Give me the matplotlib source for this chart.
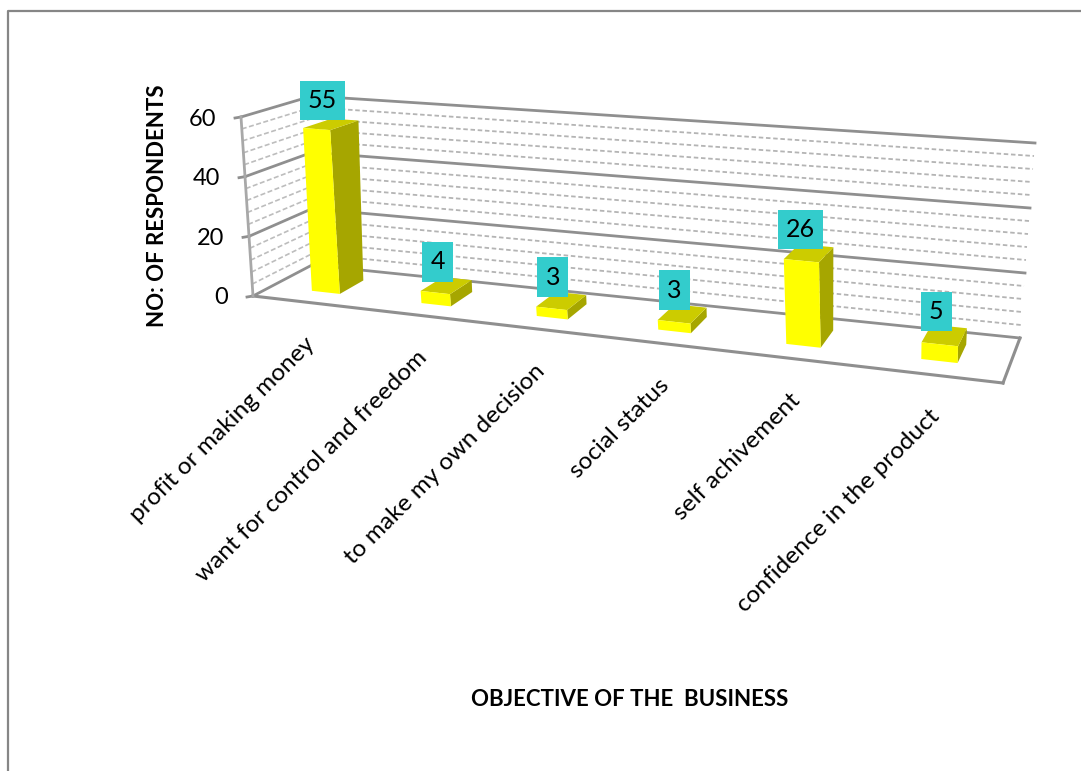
import matplotlib
matplotlib.use("Agg")
import matplotlib.pyplot as plt
import numpy as np
from matplotlib.patches import Polygon

plt.rcParams['font.family'] = ['Lato', 'DejaVu Sans']

# data
categories = ["profit or making money", "want for control and freedom",
              "to make my own decision", "social status",
              "self achivement", "confidence in the product"]
respondents = [55, 4, 3, 3, 26, 5]
major_ticks = [0, 20, 40, 60]
minor_step = 4
y_max = 60

# corners of the 3d box in picture pixels: (x=0,d=0) (x=n,d=0) (x=n,d=1) (x=0,d=1)
floor_px = [(253, 296), (1003, 383), (1020, 338), (312, 265)]
top_px = [(241, 117), (1011, 176), (1035, 143), (312, 96)]


def homography(dst):
    src = [(0, 0), (1, 0), (1, 1), (0, 1)]
    A, b = [], []
    for (u, v), (x, y) in zip(src, dst):
        A.append([u, v, 1, 0, 0, 0, -u * x, -v * x])
        A.append([0, 0, 0, u, v, 1, -u * y, -v * y])
        b += [x, y]
    return np.append(np.linalg.solve(np.array(A, float), np.array(b, float)), 1).reshape(3, 3)


H_floor = homography(floor_px)
H_top = homography(top_px)
n = len(categories)


def project(x, d, v):
    # x in category units, d depth 0..1, v value
    u = x / n
    u = u + 0.07 * u * (1 - u)  # the perspective of the original is a bit flatter
    p = np.array([u, d, 1.0])
    a = H_floor @ p
    b = H_top @ p
    a, b = a[:2] / a[2], b[:2] / b[2]
    return a + (b - a) * v / y_max


fig = plt.figure(figsize=(10.81, 7.71), dpi=100)
ax = fig.add_axes([0, 0, 1, 1])
ax.set_xlim(0, 1081)
ax.set_ylim(771, 0)
ax.axis("off")

# chart area border
ax.plot([8, 8, 1081], [771, 11, 11], color="#868686", lw=1.6, zorder=1)

grid_c = "#8f8f8f"


def line3d(p0, p1, **kw):
    q0, q1 = project(*p0), project(*p1)
    ax.plot([q0[0], q1[0]], [q0[1], q1[1]], **kw)


# minor gridlines
for v in np.arange(0, y_max + 1, minor_step):
    if v in major_ticks:
        continue
    line3d((0, 0, v), (0, 1, v), color="#bdbdbd", lw=1.2, ls=(0, (3, 1.5)), zorder=2)
    line3d((0, 1, v), (n, 1, v), color="#b4b4b4", lw=1.3, ls=(0, (2.5, 1.5)), zorder=2)

# major gridlines and ticks
for v in major_ticks:
    line3d((0, 0, v), (0, 1, v), color=grid_c, lw=2, zorder=3)
    line3d((0, 1, v), (n, 1, v), color=grid_c, lw=2, zorder=3)
    t = project(0, 0, v)
    ax.plot([t[0], t[0] - 6], [t[1], t[1] + 1], color=grid_c, lw=2, zorder=3)
    ax.text(t[0] - 25, t[1] + 2, str(v), ha="right", va="center", fontsize=17, color="black")

# floor and axis
line3d((0, 0, 0), (n, 0, 0), color=grid_c, lw=2.2, zorder=3)
line3d((n, 0, 0), (n, 1, 0), color=grid_c, lw=2.2, zorder=3)
line3d((0, 0, 0), (0, 0, y_max), color="#a8a8a8", lw=2, zorder=3)

# bars
gap = 0.37
shift = 0.012
d0, d1 = 0.3, 0.72
for i, val in enumerate(respondents):
    x0, x1 = i + gap + shift, i + 1 - gap + shift
    top = [project(x0, d0, val), project(x1, d0, val), project(x1, d1, val), project(x0, d1, val)]
    side = [project(x1, d0, 0), project(x1, d1, 0), project(x1, d1, val), project(x1, d0, val)]
    front = [project(x0, d0, 0), project(x1, d0, 0), project(x1, d0, val), project(x0, d0, val)]
    ax.add_patch(Polygon(side, closed=True, fc="#A6A600", ec="none", zorder=5))
    ax.add_patch(Polygon(top, closed=True, fc="#CCCC00", ec="none", zorder=5))
    ax.add_patch(Polygon(front, closed=True, fc="#FFFF00", ec="none", zorder=6))
    c = project(i + 0.5 + shift, 0.5, val)
    ax.text(c[0] - 8, c[1] - 24, str(val), ha="center", va="center", fontsize=18, color="black",
            bbox=dict(boxstyle="square,pad=0.33", fc="#33CCCC", ec="none"), zorder=7)
    # category labels
    b = project(i + 0.5 + shift, 0, 0)
    ax.text(b[0] - 4, b[1] + 31, categories[i], rotation=45, ha="right", va="top",
            rotation_mode="anchor", fontsize=17.6, color="black", zorder=4)

ax.text(157, 206, "NO: OF RESPONDENTS", rotation=90, ha="center", va="center",
        fontsize=16, fontweight="bold", color="black")
ax.text(630, 699, "OBJECTIVE OF THE  BUSINESS", ha="center", va="center",
        fontsize=16, fontweight="bold", color="black")

fig.savefig("out.png", dpi=100)
